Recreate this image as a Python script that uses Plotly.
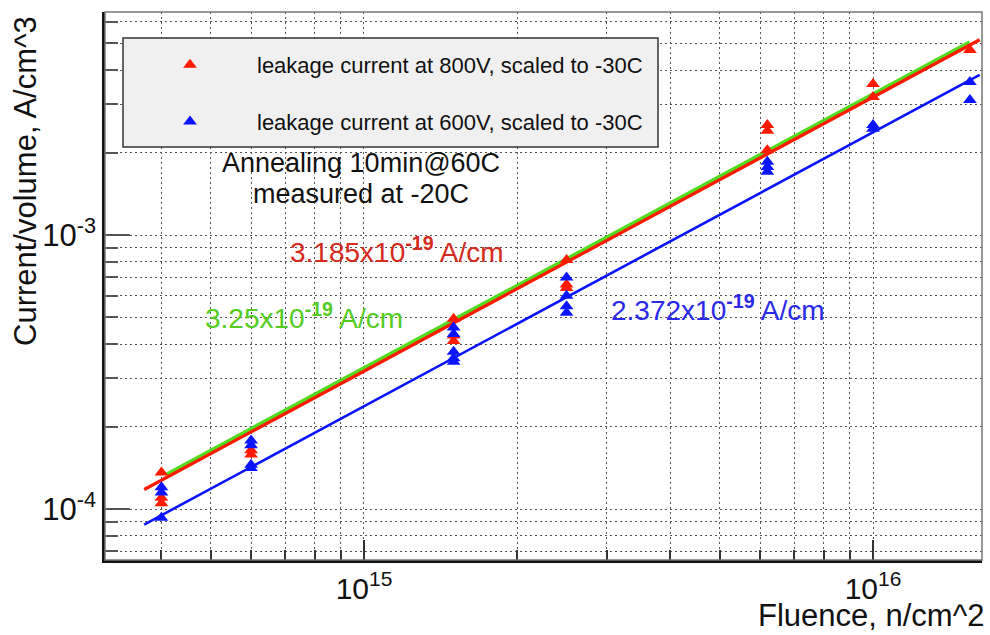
import numpy as np
import plotly.graph_objects as go

# Fluence points (n/cm^2) and measured current per volume (A/cm^3)
fluence = [4e14, 6e14, 1.5e15, 2.5e15, 6.2e15, 1e16, 1.55e16]

current_800v = [
    [1.36e-4, 1.10e-4, 1.05e-4],
    [1.64e-4, 1.58e-4],
    [4.95e-4, 4.30e-4, 4.10e-4],
    [8.10e-4, 6.60e-4, 6.40e-4],
    [2.52e-3, 2.40e-3, 2.04e-3],
    [3.56e-3, 3.19e-3],
    [4.73e-3],
]
current_600v = [
    [1.20e-4, 1.15e-4, 9.3e-5],
    [1.78e-4, 1.71e-4, 1.45e-4, 1.41e-4],
    [4.60e-4, 4.35e-4, 3.75e-4, 3.55e-4, 3.45e-4],
    [7.00e-4, 6.00e-4, 5.50e-4, 5.20e-4],
    [1.85e-3, 1.77e-3, 1.70e-3],
    [2.52e-3, 2.44e-3],
    [3.62e-3, 3.11e-3],
]

# Damage constants (A/cm) of the linear fits I/V = alpha * fluence
alpha_800 = 3.185e-19
alpha_ref = 3.25e-19
alpha_600 = 2.372e-19
fit_range_800 = [3.7e14, 1.62e16]
fit_range_ref = [4.1e14, 1.55e16]
fit_range_600 = [3.7e14, 1.62e16]

x_major = [1e15, 1e16]
x_major_text = ["10<sup>15</sup>", "10<sup>16</sup>"]
x_minor = [4e14, 5e14, 6e14, 7e14, 8e14, 9e14,
           2e15, 3e15, 4e15, 5e15, 6e15, 7e15, 8e15, 9e15]
y_major = [1e-4, 1e-3]
y_major_text = ["10<sup>-4</sup>", "10<sup>-3</sup>"]
y_minor = [7e-5, 8e-5, 9e-5,
           2e-4, 3e-4, 4e-4, 5e-4, 6e-4, 7e-4, 8e-4, 9e-4,
           2e-3, 3e-3, 4e-3, 5e-3, 6e-3]

FONT = "Liberation Sans, Arial, sans-serif"
W, H = 990, 635
ML, MR, MT, MB = 105, 8, 12, 75
pw, ph = W - ML - MR, H - MT - MB


def px_x(x):
    return (x - ML) / pw


def px_y(y):
    return (H - MB - y) / ph


def flatten(xs, groups):
    fx, fy = [], []
    for x, g in zip(xs, groups):
        for v in g:
            fx.append(x)
            fy.append(v)
    return fx, fy


fig = go.Figure()

# fit lines
for alpha, rng, color, width in [
    (alpha_ref, fit_range_ref, "#52dc1e", 5),
    (alpha_800, fit_range_800, "#ff1a00", 3.2),
    (alpha_600, fit_range_600, "#0a14ff", 2.6),
]:
    xs = np.array(rng)
    fig.add_trace(go.Scatter(x=xs, y=alpha * xs, mode="lines",
                             line=dict(color=color, width=width),
                             showlegend=False, hoverinfo="skip"))

x8, y8 = flatten(fluence, current_800v)
x6, y6 = flatten(fluence, current_600v)
fig.add_trace(go.Scatter(x=x8, y=y8, mode="markers",
                         marker=dict(symbol="triangle-up", size=12, color="#ff1a00"),
                         name="leakage current at 800V, scaled to -30C",
                         legendgroup="a"))
fig.add_trace(go.Scatter(x=x6, y=y6, mode="markers",
                         marker=dict(symbol="triangle-up", size=12, color="#0a14ff"),
                         name="leakage current at 600V, scaled to -30C",
                         legendgroup="b"))

grid = dict(showgrid=True, gridcolor="#555555", gridwidth=1, griddash="2px,3px")

fig.update_xaxes(
    type="log", range=[14.4912, 16.2141],
    tickmode="array", tickvals=x_major, ticktext=x_major_text,
    ticks="inside", ticklen=20, tickwidth=2, tickcolor="#333333",
    tickfont=dict(family=FONT, size=30, color="#111111"),
    showline=True, linecolor="#111111", linewidth=2.5,
    minor=dict(tickmode="array", tickvals=x_minor, ticks="inside", ticklen=10,
               tickwidth=2, tickcolor="#333333", **grid),
    zeroline=False, **grid,
)
fig.update_yaxes(
    type="log", range=[-4.1861, -2.1861],
    tickmode="array", tickvals=y_major, ticktext=y_major_text,
    ticks="inside", ticklen=25, tickwidth=2, tickcolor="#555555",
    tickfont=dict(family=FONT, size=31, color="#111111"),
    showline=True, linecolor="#111111", linewidth=2.5,
    minor=dict(tickmode="array", tickvals=y_minor, ticks="inside", ticklen=13,
               tickwidth=2, tickcolor="#555555", **grid),
    zeroline=False, **grid,
)

# thin frame on the top and right sides
fig.add_shape(type="rect", xref="paper", yref="paper", x0=0, x1=1, y0=0, y1=1,
              line=dict(color="#777777", width=1.5), layer="above")

# legend box
fig.add_shape(type="rect", xref="paper", yref="paper",
              x0=px_x(123), x1=px_x(658), y0=px_y(147), y1=px_y(38),
              fillcolor="#f0f0f0", line=dict(color="#333333", width=1.5), layer="above")

annotations = [
    dict(text="Annealing 10min@60C", x=361, y=163, color="#111111", size=27, anchor="center"),
    dict(text="measured at -20C", x=361, y=194, color="#111111", size=27, anchor="center"),
    dict(text="3.185x10<sup><b>-19</b></sup> A/cm", x=288, y=250, color="#d42a1c", size=28, anchor="left"),
    dict(text="3.25x10<sup><b>-19</b></sup> A/cm", x=203, y=316, color="#55cc22", size=28, anchor="left"),
    dict(text="2.372x10<sup><b>-19</b></sup> A/cm", x=609, y=308, color="#2a2ae6", size=28, anchor="left"),
]
for a in annotations:
    fig.add_annotation(
        text=a["text"], xref="paper", yref="paper",
        x=px_x(a["x"]), y=px_y(a["y"]),
        xanchor=a["anchor"], yanchor="middle", showarrow=False,
        font=dict(family=FONT, size=a["size"], color=a["color"]),
    )

# axis titles
fig.add_annotation(text="Fluence, n/cm^2", xref="paper", yref="paper",
                   x=px_x(986), y=px_y(615),
                   xanchor="right", yanchor="middle", showarrow=False,
                   font=dict(family=FONT, size=31, color="#111111"))
fig.add_annotation(text="Current/volume, A/cm^3", xref="paper", yref="paper",
                   x=px_x(25), y=px_y(14), textangle=-90,
                   xanchor="center", yanchor="top", showarrow=False,
                   font=dict(family=FONT, size=31, color="#111111"))

fig.update_layout(
    width=W, height=H,
    margin=dict(l=ML, r=MR, t=MT, b=MB),
    paper_bgcolor="white", plot_bgcolor="white",
    showlegend=True,
    legend=dict(x=px_x(123), y=px_y(44), xanchor="left", yanchor="top",
                bgcolor="rgba(0,0,0,0)", borderwidth=0,
                font=dict(family=FONT, size=22, color="#111111"),
                traceorder="grouped", tracegroupgap=25, itemwidth=124,
                ),
)

fig.write_html("out.html")
